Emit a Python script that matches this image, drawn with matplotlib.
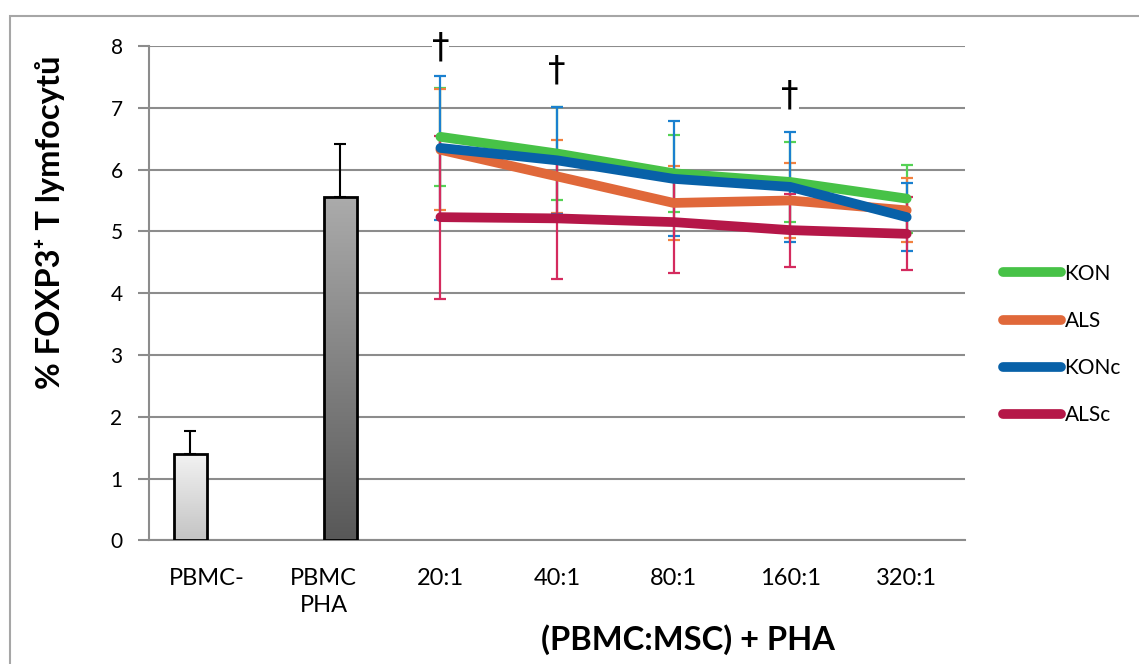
import numpy as np
import matplotlib
matplotlib.use("Agg")
import matplotlib.pyplot as plt
from matplotlib.patches import Rectangle
from matplotlib.lines import Line2D

plt.rcParams['font.family'] = ['Lato', 'DejaVu Sans']

# Categories on the x axis
categories = ["PBMC-", "PBMC\nPHA", "20:1", "40:1", "80:1", "160:1", "320:1"]

# Control bars (PBMC alone, PBMC + PHA)
bar_values = [1.39, 5.55]
bar_errors = [0.38, 0.86]

# Co-culture ratios (categories 2..6)
series_names = ["KON", "ALS", "KONc", "ALSc"]
kon_values = [6.53, 6.26, 5.94, 5.80, 5.53]
kon_errors = [0.79, 0.76, 0.62, 0.65, 0.55]
als_values = [6.32, 5.89, 5.46, 5.50, 5.34]
als_errors = [0.98, 0.59, 0.60, 0.60, 0.52]
konc_values = [6.35, 6.15, 5.85, 5.72, 5.23]
konc_errors = [1.17, 0.87, 0.93, 0.89, 0.55]
alsc_values = [5.23, 5.21, 5.15, 5.02, 4.96]
alsc_errors = [1.32, 0.98, 0.82, 0.59, 0.59]

# Significance marks: (category index, height)
dagger_x = [2, 3, 5]
dagger_y = [7.97, 7.60, 7.20]

line_colors = ["#47C247", "#E0683A", "#0861A8", "#B51748"]
err_colors = ["#55D255", "#F2813F", "#1A80CF", "#D42B5E"]

fig = plt.figure(figsize=(11.39, 6.64), dpi=100)
ax = fig.add_axes([149 / 1139, 1 - 540.3 / 664, (965 - 149) / 1139, (540.3 - 46) / 664])

# Outer frame of the chart area
fig.patches.append(Rectangle((10 / 1139, -0.1), 1.2, 1 - 16 / 664 + 0.1,
                             transform=fig.transFigure, fill=False,
                             edgecolor="#A6A6A6", linewidth=1.5, zorder=0))

xpos = np.arange(len(categories))

# Gradient-filled control bars with upward error bars
bar_offsets = [-0.145, 0.14]
bar_width = 0.285
bar_cmaps = [("#F2F2F2", "#C4C4C4"), ("#ABABAB", "#585858")]
for i, (v, e) in enumerate(zip(bar_values, bar_errors)):
    xc = xpos[i] + bar_offsets[i]
    b = ax.bar(xc, v, width=bar_width, color="none", edgecolor="black",
               linewidth=2, zorder=4)[0]
    top, bottom = matplotlib.colors.to_rgb(bar_cmaps[i][0]), matplotlib.colors.to_rgb(bar_cmaps[i][1])
    t = np.linspace(0, 1, 256)[:, None]
    grad = np.array(top)[None, None, :] * (1 - t[..., None]) + np.array(bottom)[None, None, :] * t[..., None]
    grad = np.repeat(grad, 2, axis=1)
    im = ax.imshow(grad, extent=[xc - bar_width / 2, xc + bar_width / 2, 0, v],
                   aspect="auto", origin="upper", zorder=3)
    im.set_clip_path(b)
    ax.errorbar(xc, v, yerr=[[0], [e]], fmt="none", ecolor="black",
                elinewidth=1.5, capsize=4.3, capthick=1.5, zorder=2)

# Line series with error bars
line_x = xpos[2:]
values = [kon_values, als_values, konc_values, alsc_values]
errors = [kon_errors, als_errors, konc_errors, alsc_errors]
for k, (vals, errs) in enumerate(zip(values, errors)):
    ax.errorbar(line_x, vals, yerr=errs, fmt="none", ecolor=err_colors[k],
                elinewidth=1.6, capsize=4.3, capthick=1.6, zorder=5 + k)
for k, vals in enumerate(values):
    ax.plot(line_x, vals, color=line_colors[k], linewidth=7,
            solid_capstyle="round", solid_joinstyle="round", zorder=10 + k)

# Significance daggers
for dx, dy in zip(dagger_x, dagger_y):
    ax.text(dx, dy, "\u2020", ha="center", va="center", fontsize=25,
            family=["DejaVu Sans"], zorder=20,
            bbox=dict(facecolor="white", edgecolor="none", pad=0))

ax.set_xlim(-0.5, 6.5)
ax.set_ylim(0, 8)
ax.set_yticks(range(0, 9))
ax.set_xticks(xpos)
ax.set_xticklabels(categories, fontsize=17, linespacing=1.35)
ax.tick_params(axis="x", length=0, pad=20)
ax.tick_params(axis="y", length=8, width=1.5, color="#8C8C8C", pad=11, labelsize=15)
ax.yaxis.grid(True, color="#8C8C8C", linewidth=1.5, zorder=0)
ax.set_axisbelow(True)
for s in ["top", "right"]:
    ax.spines[s].set_visible(False)
for s in ["left", "bottom"]:
    ax.spines[s].set_color("#8C8C8C")
    ax.spines[s].set_linewidth(1.5)

# Axis titles
fig.text(50 / 1139, 1 - 222 / 664, "% FOXP3\u207a T lymfocyt\u016f", rotation=90,
         ha="center", va="center", fontsize=23.5, fontweight="bold")
fig.text(688 / 1139, 1 - 640 / 664, "(PBMC:MSC) + PHA", ha="center", va="center",
         fontsize=23.5, fontweight="bold")

# Legend
handles = [Line2D([0], [0], color=c, linewidth=7, solid_capstyle="round") for c in line_colors]
fig.legend(handles, series_names, loc="center left",
           bbox_to_anchor=(1003 / 1139, 1 - 344.4 / 664), frameon=False,
           fontsize=15, handlelength=2.8, handletextpad=0.15, labelspacing=1.3,
           borderpad=0, borderaxespad=0)

fig.savefig("out.png", dpi=100)
